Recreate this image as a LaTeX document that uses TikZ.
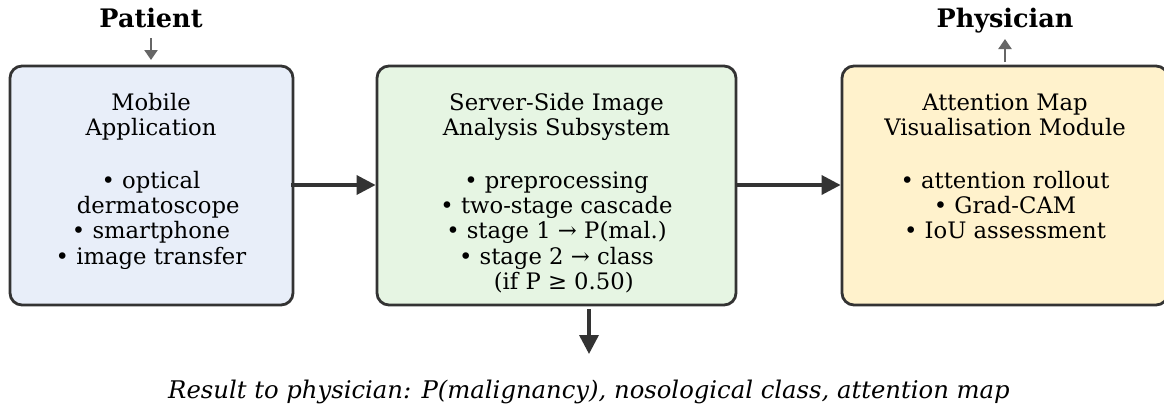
\documentclass[tikz,border=0pt]{standalone}
\usepackage{fontspec}
\setmainfont{DejaVu Serif}
\usetikzlibrary{arrows.meta}
\definecolor{bordc}{HTML}{333333}
\definecolor{grayc}{HTML}{666666}
\definecolor{fillA}{HTML}{E8EEF9}
\definecolor{fillB}{HTML}{E6F5E3}
\definecolor{fillC}{HTML}{FFF2CC}
\tikzset{
  boxstyle/.style={draw=bordc, line width=2.8pt, rounded corners=12pt, inner sep=0pt},
  boxtext/.style={anchor=north, align=center, inner sep=0pt, font=\fontsize{22.7}{25.3}\selectfont},
  titletext/.style={anchor=base, font=\fontsize{25.5}{28}\selectfont\bfseries, inner sep=0pt},
  mainarrow/.style={draw=bordc, line width=3.5pt, -{Triangle[length=19pt,width=19pt]}},
  smallarrow/.style={draw=grayc, line width=2.2pt, -{Triangle[length=10pt,width=13pt]}},
}
\newcommand{\topstrut}{\rule{0pt}{18pt}}
\newcommand{\leadsp}{\hspace*{0.636em}}
\begin{document}
\begin{tikzpicture}[x=1pt,y=-1pt]
\useasboundingbox (0,0) rectangle (1164,407);
\clip (0,0) rectangle (1164,407);
\fill[white] (0,0) rectangle (1164,407);
\node[boxstyle, fill=fillA, minimum width=283pt, minimum height=239pt] (boxA) at (151.5,185.5) {};
\node[boxstyle, fill=fillB, minimum width=359pt, minimum height=239pt] (boxB) at (556.5,185.5) {};
\node[boxstyle, fill=fillC, minimum width=326pt, minimum height=239pt] (boxC) at (1005,185.5) {};
\node[boxtext] (textA) at (151,92) {\topstrut Mobile\\Application\\[27.5pt]• optical\\\leadsp dermatoscope\\• smartphone\\• image transfer};
\node[boxtext] (textB) at (556.5,92) {\topstrut Server-Side Image\\Analysis Subsystem\\[27.5pt]• preprocessing\\• two-stage cascade\\• stage 1 → P(mal.)\\• stage 2 → class\\\leadsp(if P ≥ 0.50)};
\node[boxtext] (textC) at (1005,92) {\topstrut Attention Map\\Visualisation Module\\[27.5pt]• attention rollout\\• Grad-CAM\\• IoU assessment};
\node[titletext] (patient) at (151,27) {Patient};
\node[titletext] (physician) at (1005,27) {Physician};
\node[anchor=base, inner sep=0pt, font=\fontsize{24.3}{27}\selectfont\itshape] (result) at (589,398) {Result to physician: P(malignancy), nosological class, attention map};
\coordinate (pA) at (151,38);
\coordinate (pB) at (151,60);
\coordinate (qA) at (1005,62);
\coordinate (qB) at (1005,39);
\coordinate (a1) at (291,185);
\coordinate (a2) at (735,185);
\coordinate (d1) at (589,309);
\coordinate (d2) at (589,354);
\draw[smallarrow] (pA) -- (pB);
\draw[smallarrow] (qA) -- (qB);
\draw[mainarrow] (a1) -- (boxB.west |- a1);
\draw[mainarrow] (a2) -- (boxC.west |- a2);
\draw[mainarrow] (d1) -- (d2);
\end{tikzpicture}
\end{document}
